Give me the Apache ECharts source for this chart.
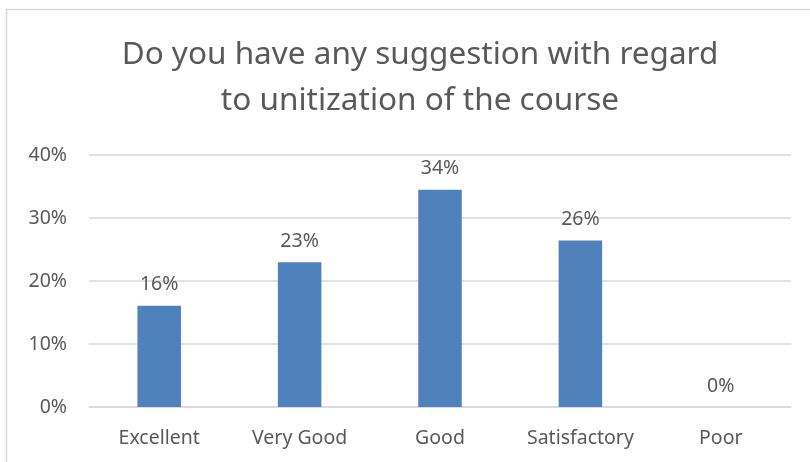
<!DOCTYPE html>
<html>
<head>
<meta charset="utf-8">
<script src="https://cdn.jsdelivr.net/npm/echarts@6/dist/echarts.min.js"></script>
<style>
  html, body { margin: 0; padding: 0; background: #fff; }
  #chart { width: 810px; height: 462px; }
</style>
</head>
<body>
<div id="chart"></div>
<script>
// ratings and share of answers (%)
const categories = ['Excellent', 'Very Good', 'Good', 'Satisfactory', 'Poor'];
const values = [16.09, 22.99, 34.48, 26.44, 0];
const yTicks = [0, 10, 20, 30, 40];

const textColor = '#595959';
const myChart = echarts.init(document.getElementById('chart'));

const options = {
  backgroundColor: '#fff',
  textStyle: { fontFamily: 'Noto Sans' },
  title: {
    text: 'Do you have any suggestion with regard\nto unitization of the course',
    left: 415,
    textAlign: 'center',
    top: 27,
    textStyle: {
      color: textColor,
      fontSize: 31.5,
      fontWeight: 'normal',
      lineHeight: 46,
    },
  },
  // frame of the chart area
  graphic: [
    {
      type: 'rect',
      shape: { x: 6.5, y: 9.5, width: 900, height: 600 },
      style: { fill: 'none', stroke: '#d9d9d9', lineWidth: 1.5 },
      silent: true,
    },
  ],
  grid: {
    left: 89,
    right: 19,
    top: 155,
    bottom: 55,
  },
  xAxis: {
    type: 'category',
    data: categories,
    axisLine: { lineStyle: { color: '#d9d9d9', width: 1.5 } },
    axisTick: { show: false },
    axisLabel: { color: textColor, fontSize: 19.5, margin: 21, interval: 0 },
  },
  yAxis: {
    type: 'value',
    min: yTicks[0],
    max: yTicks[yTicks.length - 1],
    interval: 10,
    axisLine: { show: false },
    axisTick: { show: false },
    splitLine: { lineStyle: { color: '#d9d9d9', width: 1.5 } },
    axisLabel: {
      color: textColor,
      fontSize: 19.5,
      margin: 22,
      formatter: '{value}%',
    },
  },
  series: [
    {
      type: 'bar',
      data: values,
      barWidth: '31%',
      itemStyle: { color: '#4f81bd' },
      label: {
        show: true,
        position: 'top',
        distance: 11,
        color: textColor,
        fontSize: 19.5,
        formatter: (p) => Math.round(p.value) + '%',
      },
    },
  ],
};
myChart.setOption(options);
</script>
</body>
</html>
